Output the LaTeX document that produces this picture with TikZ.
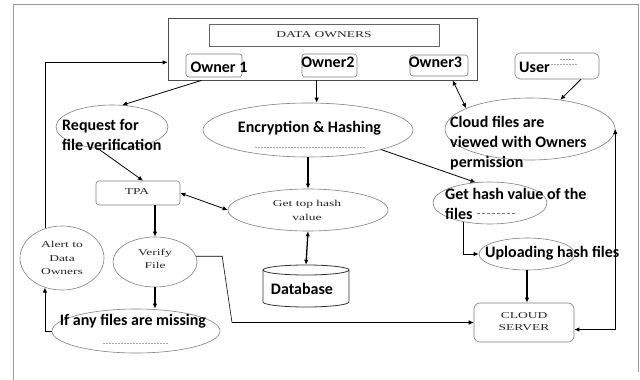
\documentclass[tikz,border=0pt]{standalone}
\usepackage{fontspec}
\usetikzlibrary{shapes.geometric,calc,arrows.meta}
\newfontfamily\bsans{Carlito}
\newfontfamily\wserif[FakeStretch=1.5]{Liberation Serif}
\begin{document}
\begin{tikzpicture}[x=1pt,y=-1pt,
  ell/.style={ellipse, draw=black!50, line width=0.6pt, inner sep=0pt},
  bx/.style={rectangle, draw=black!50, line width=0.6pt, rounded corners=3pt, inner sep=0pt},
  bt/.style={font=\bsans\bfseries\fontsize{16}{20}\selectfont, text=black, inner sep=0pt},
  st/.style={font=\wserif\fontsize{9}{13}\selectfont, text=black!85, inner sep=0pt, align=center},
  arr/.style={-{Latex[length=5pt,width=4.5pt]}, line width=0.8pt},
  darr/.style={{Latex[length=5pt,width=4.5pt]}-{Latex[length=5pt,width=4.5pt]}, line width=0.8pt},
  faint/.style={black!35, dash pattern=on 1.5pt off 1.5pt, line width=0.5pt}]
\useasboundingbox (0,0) rectangle (640,380);
\fill[white] (0,0) rectangle (640,380);
% frame
\draw[black!40, line width=0.8pt] (13,380) -- (13,4) -- (638,4) -- (638,372);

% data owners
\node[draw=black!70, line width=0.7pt, minimum width=309pt, minimum height=62pt, inner sep=0pt] (own) at (322.5,49) {};
\node[st, draw=black!60, line width=0.6pt, minimum width=230pt, minimum height=22pt] (ttl) at (324,35) {DATA OWNERS};
\node[bx, minimum width=56pt, minimum height=23pt] (o1) at (214,65.5) {};
\node[bt] (o1t) at (219,67) {Owner 1};
\node[bx, minimum width=55pt, minimum height=23pt] (o2) at (329.5,65.5) {};
\node[bt] (o2t) at (328,62) {Owner2};
\node[bx, minimum width=58pt, minimum height=21pt] (o3) at (439,65.5) {};
\node[bt] (o3t) at (435.5,62.5) {Owner3};
\node[bx, rounded corners=5pt, minimum width=84pt, minimum height=26pt] (usr) at (557,66) {};
\node[bt, anchor=west] (usrt) at (519,67) {User};
\draw[faint] (551,64) -- (577,64);
\draw[faint] (560,59) -- (575,59);

% ellipses
\node[ell, minimum width=112pt, minimum height=44pt] (req) at (112,127) {};
\node[bt, anchor=west, align=left] (reqt) at (62,135) {Request for\\file verification};
\node[ell, minimum width=210pt, minimum height=54pt] (enc) at (308,130) {};
\node[bt] (enct) at (309.5,128) {Encryption \& Hashing};
\draw[faint] (255,147) -- (365,147);
\node[ell, minimum width=170pt, minimum height=62pt] (cld) at (530,129) {};
\node[bt, anchor=west, align=left] (cldt) at (450,143) {Cloud files are\\viewed with Owners\\permission};
\node[ell, minimum width=160pt, minimum height=42pt] (gth) at (308,210) {};
\node[st, font=\wserif\fontsize{9}{14}\selectfont] (gtht) at (307,210) {Get top hash\\value};
\node[ell, minimum width=114pt, minimum height=42pt] (ghf) at (490,203) {};
\node[bt, anchor=west, align=left] (ghft) at (445,203.5) {Get hash value of the\\files};
\draw[black!55, dash pattern=on 3pt off 2pt, line width=0.5pt] (477,213) -- (517,213);
\node[ell, minimum width=96pt, minimum height=32pt] (upl) at (527,254) {};
\node[bt, anchor=west] (uplt) at (485,253) {Uploading hash files};
\node[ell, minimum width=84pt, minimum height=50pt] (vf) at (155,262) {};
\node[st] (vft) at (155,258.5) {Verify\\File};
\node[ell, minimum width=84pt, minimum height=64pt] (alr) at (62,258) {};
\node[st, font=\wserif\fontsize{9}{13.5}\selectfont] (alrt) at (62,258) {Alert to\\Data\\Owners};
\node[ell, minimum width=168pt, minimum height=44pt] (ifm) at (136,331) {};
\node[bt] (ift) at (133,321) {If any files are missing};
\draw[faint] (103,343) -- (168,343);

% boxes
\node[bx, minimum width=84pt, minimum height=24pt] (tpa) at (138,193) {};
\node[st] (tpat) at (137,192) {TPA};
\node[bx, rounded corners=6pt, minimum width=100pt, minimum height=39pt] (srv) at (524,322.5) {};
\node[st, font=\wserif\fontsize{9}{11.5}\selectfont] (srvt) at (524,321.5) {CLOUD\\SERVER};

% database
\node[minimum width=86pt, minimum height=42pt, inner sep=0pt] (db) at (306,286) {};
\draw[black!80, line width=0.8pt] (263,270) -- (263,302) arc[start angle=180, end angle=360, x radius=43pt, y radius=5pt] -- (349,270);
\draw[black!80, line width=0.8pt] (306,270) ellipse[x radius=43pt, y radius=5pt];
\node[bt] (dbt) at (302,289) {Database};

% helper coordinates
\coordinate (pO1) at ($(own.south west)+(34,0)$);
\coordinate (pO2) at ($(own.south west)+(149,0)$);
\coordinate (pO3) at ($(own.south west)+(285,0)$);
\coordinate (pOL) at ($(own.south west)+(0,-18)$);
\coordinate (pU) at ($(usr.south)+(24,0)$);
\coordinate (pT) at ($(tpa.north)+(5,0)$);
\coordinate (pT2) at (tpa.south -| vf.north);
\coordinate (pK) at (232,322.5);
\coordinate (pSR) at ($(srv.east)+(0,7)$);

% connectors
\draw[arr] (alr.120) |- (pOL);
\draw[arr] (ifm.west) -| (alr.240);
\draw[arr] (pO1) -- (req.65);
\draw[arr] (req.237) -- (pT);
\draw[arr] (pO2) -- (pO2 |- enc.north);
\draw[darr] (pO3) -- (cld.162);
\draw[arr] (pU) -- (cld.44);
\draw[arr, line width=1.1pt] (enc.south) -- (gth.north);
\draw[arr] (enc.-15) -- (ghf.125);
\draw[darr] (tpa.east) -- (gth.west);
\draw[darr, line width=1.3pt] (gth.south) -- (db.north);
\draw[arr, line width=1.3pt] (pT2) -- (vf.north);
\draw[arr, line width=1.1pt] (vf.south) -- (vf.south |- ifm.north);
\draw[arr, line width=0.6pt] (vf.8) -- ++(26,0) -- (pK) -- (srv.west);
\draw[arr] (ghf.215) |- (upl.west);
\draw[arr, line width=1.1pt] (upl.south) -- (upl.south |- srv.north);
\draw[darr] (cld.east) |- (pSR);
\end{tikzpicture}
\end{document}
